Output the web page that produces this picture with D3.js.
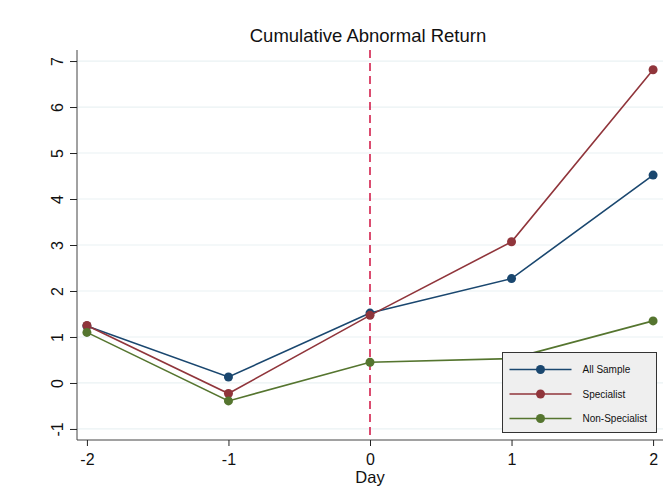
<!DOCTYPE html>
<html>
<head>
<meta charset="utf-8">
<script src="https://cdn.jsdelivr.net/npm/d3@7"></script>
<style>
  body { margin: 0; background: #fff; }
  svg { font-family: "Liberation Sans", Arial, sans-serif; }
</style>
</head>
<body>
<div id="chart"></div>
<script>
// data
const days       = [-2, -1, 0, 1, 2];
const allSample  = [1.24, 0.13, 1.52, 2.27, 4.52];
const specialist = [1.25, -0.23, 1.47, 3.07, 6.81];
const nonSpec    = [1.10, -0.39, 0.45, 0.53, 1.35];
const yTicks     = [-1, 0, 1, 2, 3, 4, 5, 6, 7];
const xTicks     = [-2, -1, 0, 1, 2];

const series = [
	{ name: "All Sample",     values: allSample,  color: "#1a476f" },
	{ name: "Specialist",     values: specialist, color: "#90353b" },
	{ name: "Non-Specialist", values: nonSpec,    color: "#55752f" }
];

let canvasWidth  = 670;
let canvasHeight = 503;
let margin       = { top: 50, right: 7, bottom: 63, left: 77 };
let width        = canvasWidth - margin.left - margin.right;
let height       = canvasHeight - margin.top - margin.bottom;

let x = d3.scaleLinear().domain([-2.07, 2.07]).range([0, width]);
let y = d3.scaleLinear().domain([-1.24, 7.24]).range([height, 0]);

let svg = d3.select("#chart").append("svg")
	.attr("width", canvasWidth)
	.attr("height", canvasHeight);

svg.append("text")
	.attr("x", 368).attr("y", 42)
	.attr("text-anchor", "middle")
	.attr("font-size", 18.5)
	.attr("fill", "#111")
	.text("Cumulative Abnormal Return");

let g = svg.append("g")
	.attr("transform", "translate(" + margin.left + "," + margin.top + ")");

// grid
g.append("g")
	.selectAll("line")
	.data(yTicks).enter()
	.append("line")
		.attr("x1", 0).attr("x2", width)
		.attr("y1", (d) => y(d)).attr("y2", (d) => y(d))
		.attr("stroke", "#eaf2f3")
		.attr("stroke-width", 1.2);

// axes
let yAxis = g.append("g")
	.call(d3.axisLeft(y).tickValues(yTicks).tickFormat((d) => String(d)).tickSize(7).tickSizeOuter(0).tickPadding(6));
yAxis.select(".domain").attr("stroke", "#444").attr("d", "M0," + height + "V0");
yAxis.selectAll(".tick line").attr("stroke", "#222");
yAxis.selectAll(".tick text")
	.attr("font-size", 16)
	.attr("fill", "#111")
	.attr("text-anchor", "middle")
	.attr("transform", "translate(-7,0) rotate(-90,-13,0)")
	.attr("x", -13).attr("dy", "0.35em");

let xAxis = g.append("g")
	.attr("transform", "translate(0," + height + ")")
	.call(d3.axisBottom(x).tickValues(xTicks).tickFormat((d) => String(d)).tickSize(6).tickSizeOuter(0).tickPadding(8));
xAxis.select(".domain").attr("stroke", "#444").attr("d", "M0,0H" + width);
xAxis.selectAll(".tick line").attr("stroke", "#222");
xAxis.selectAll(".tick text").attr("font-size", 16).attr("fill", "#111");

g.append("text")
	.attr("x", x(0)).attr("y", height + 43)
	.attr("text-anchor", "middle")
	.attr("font-size", 16.5)
	.attr("fill", "#111")
	.text("Day");

// event line
g.append("line")
	.attr("x1", x(0)).attr("x2", x(0))
	.attr("y1", 0).attr("y2", height)
	.attr("stroke", "#d3204d")
	.attr("stroke-width", 1.6)
	.attr("stroke-dasharray", "8,5");

let line = d3.line().x((d, i) => x(days[i])).y((d) => y(d));

let sg = g.selectAll(".series")
	.data(series).enter()
	.append("g").attr("class", "series");

sg.append("path")
	.attr("d", (s) => line(s.values))
	.attr("fill", "none")
	.attr("stroke", (s) => s.color)
	.attr("stroke-width", 1.6);

sg.selectAll("circle")
	.data((s) => s.values.map((v, i) => ({ v: v, day: days[i], color: s.color }))).enter()
	.append("circle")
		.attr("cx", (d) => x(d.day))
		.attr("cy", (d) => y(d.v))
		.attr("r", 4.5)
		.attr("fill", (d) => d.color);

// legend
let legend = svg.append("g").attr("transform", "translate(502.5,352.5)");
legend.append("rect")
	.attr("width", 154).attr("height", 80)
	.attr("fill", "#efefef")
	.attr("stroke", "#333")
	.attr("stroke-width", 1);

let items = legend.selectAll(".item")
	.data(series).enter()
	.append("g")
		.attr("transform", (s, i) => "translate(0," + (17 + i * 24.5) + ")");
items.append("line")
	.attr("x1", 7).attr("x2", 69)
	.attr("stroke", (s) => s.color)
	.attr("stroke-width", 1.6);
items.append("circle")
	.attr("cx", 38).attr("r", 4.5)
	.attr("fill", (s) => s.color);
items.append("text")
	.attr("x", 80).attr("dy", "0.35em")
	.attr("font-size", 10)
	.attr("fill", "#111")
	.text((s) => s.name);
</script>
</body>
</html>
